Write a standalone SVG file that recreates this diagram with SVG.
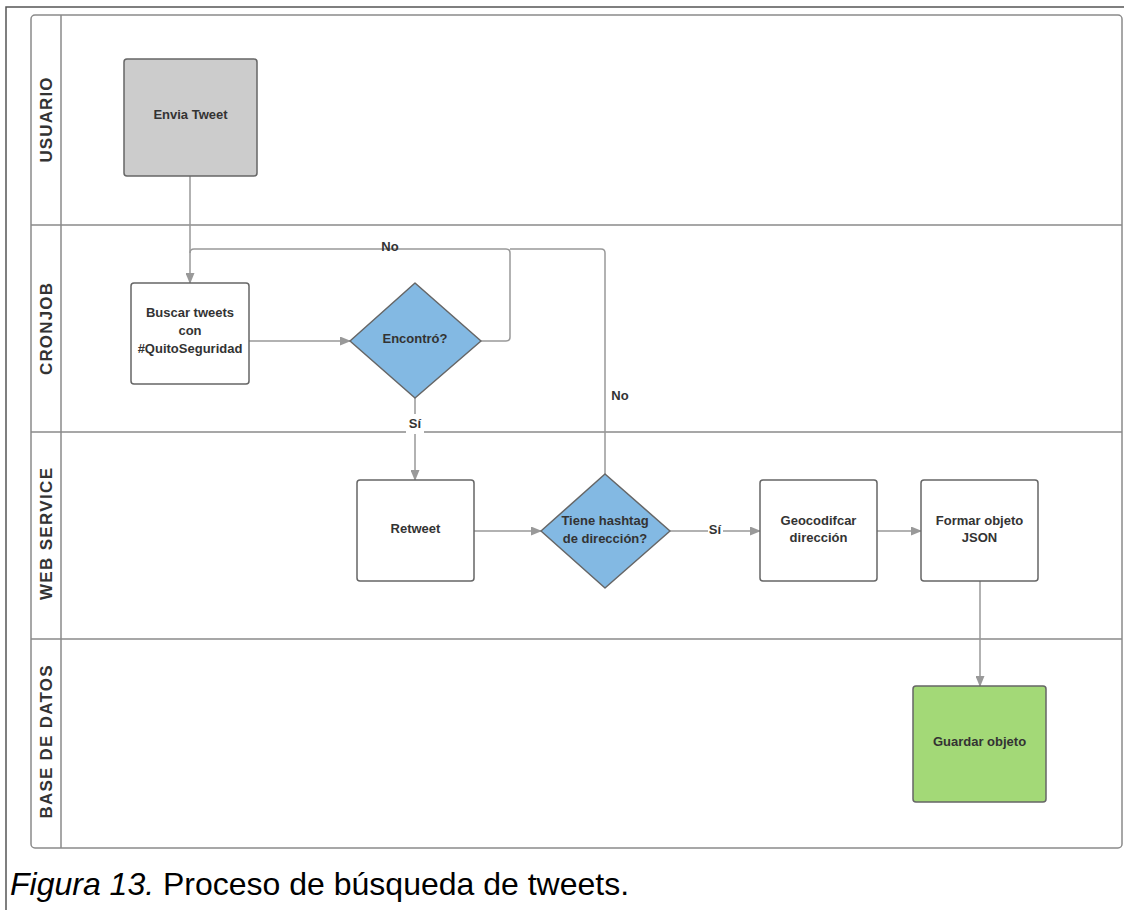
<svg xmlns="http://www.w3.org/2000/svg" width="1124" height="910" viewBox="0 0 1124 910">
  <style>
    .frame { fill: none; stroke: #555; stroke-width: 1.5; }
    .pool { fill: #fff; stroke: #8a8a8a; stroke-width: 1.5; }
    .lane { stroke: #8a8a8a; stroke-width: 1.5; fill: none; }
    .lanelabel { font-family: "Liberation Sans", Arial, sans-serif; font-weight: bold; font-size: 17px; fill: #333; text-anchor: middle; }
    .box { stroke: #666; stroke-width: 1.5; }
    .txt { font-family: "Liberation Sans", Arial, sans-serif; font-weight: bold; font-size: 13px; fill: #333; text-anchor: middle; }
    .edge { fill: none; stroke: #999; stroke-width: 1.5; }
    .lbl { font-family: "Liberation Sans", Arial, sans-serif; font-weight: bold; font-size: 13px; fill: #333; text-anchor: middle; }
    .caption { font-family: "Liberation Sans", Arial, sans-serif; font-size: 32px; fill: #000; }
  </style>
  <defs>
    <marker id="arrow" markerUnits="userSpaceOnUse" markerWidth="11" markerHeight="9" refX="10" refY="4.5" orient="auto">
      <path d="M0,0 L11,4.5 L0,9 z" fill="#999"/>
    </marker>
  </defs>

  <rect width="1124" height="910" fill="#fff"/>
  <!-- page frame -->
  <path class="frame" d="M6,910 V7 H1124"/>

  <!-- pool and lanes -->
  <g id="pool">
    <rect class="pool" x="31" y="15" width="1091" height="833" rx="4"/>
    <line class="lane" x1="61" y1="15" x2="61" y2="848"/>
    <line class="lane" x1="31" y1="225" x2="1122" y2="225"/>
    <line class="lane" x1="31" y1="432" x2="1122" y2="432"/>
    <line class="lane" x1="31" y1="639" x2="1122" y2="639"/>
    <text class="lanelabel" transform="translate(52,120) rotate(-90)" textLength="85" lengthAdjust="spacing">USUARIO</text>
    <text class="lanelabel" transform="translate(52,329) rotate(-90)" textLength="92" lengthAdjust="spacing">CRONJOB</text>
    <text class="lanelabel" transform="translate(52,534) rotate(-90)" textLength="132" lengthAdjust="spacing">WEB SERVICE</text>
    <text class="lanelabel" transform="translate(52,742) rotate(-90)" textLength="153" lengthAdjust="spacing">BASE DE DATOS</text>
  </g>

  <!-- connectors -->
  <g id="connectors">
    <path class="edge" d="M190,176 V283" marker-end="url(#arrow)"/>
    <path class="edge" d="M481,341 H506 Q510,341 510,337 V253 Q510,249 506,249 H194 Q190,249 190,253"/>
    <path class="edge" d="M605,474 V253 Q605,249 601,249 H510"/>
    <path class="edge" d="M249,341 H350" marker-end="url(#arrow)"/>
    <path class="edge" d="M415,398 V480" marker-end="url(#arrow)"/>
    <path class="edge" d="M474,531 H541" marker-end="url(#arrow)"/>
    <path class="edge" d="M670,531 H760" marker-end="url(#arrow)"/>
    <path class="edge" d="M877,531 H921" marker-end="url(#arrow)"/>
    <path class="edge" d="M980,581 V686" marker-end="url(#arrow)"/>
    <!-- edge labels -->
    <text class="lbl" x="390" y="251">No</text>
    <rect x="406" y="414" width="18" height="20" fill="#fff"/>
    <text class="lbl" x="415" y="428">Sí</text>
    <text class="lbl" x="620" y="400">No</text>
    <rect x="708" y="524" width="15" height="14" fill="#fff"/>
    <text class="lbl" x="715" y="534">Sí</text>
  </g>

  <g id="envia-tweet">
    <rect class="box" x="124" y="59" width="133" height="117" rx="3" fill="#cccccc"/>
    <text class="txt" x="190.5" y="119">Envia Tweet</text>
  </g>

  <g id="buscar-tweets">
    <rect class="box" x="131" y="283" width="118" height="101" rx="3" fill="#fff"/>
    <text class="txt" x="190" y="317">Buscar tweets</text>
    <text class="txt" x="190" y="335">con</text>
    <text class="txt" x="190" y="353">#QuitoSeguridad</text>
  </g>

  <g id="encontro">
    <path class="box" d="M415,283 L481,341 L415,398 L350,341 Z" fill="#83b9e3" stroke-linejoin="round"/>
    <text class="txt" x="415" y="343">Encontró?</text>
  </g>

  <g id="retweet">
    <rect class="box" x="357" y="480" width="117" height="101" rx="3" fill="#fff"/>
    <text class="txt" x="415.5" y="533">Retweet</text>
  </g>

  <g id="tiene-hashtag">
    <path class="box" d="M605,474 L670,531 L605,588 L541,531 Z" fill="#83b9e3" stroke-linejoin="round"/>
    <text class="txt" x="605" y="525">Tiene hashtag</text>
    <text class="txt" x="605" y="543">de dirección?</text>
  </g>

  <g id="geocodificar">
    <rect class="box" x="760" y="480" width="117" height="101" rx="3" fill="#fff"/>
    <text class="txt" x="818.5" y="525">Geocodifcar</text>
    <text class="txt" x="818.5" y="542">dirección</text>
  </g>

  <g id="formar-json">
    <rect class="box" x="921" y="480" width="117" height="101" rx="3" fill="#fff"/>
    <text class="txt" x="979.5" y="525">Formar objeto</text>
    <text class="txt" x="979.5" y="542">JSON</text>
  </g>

  <g id="guardar-objeto">
    <rect class="box" x="913" y="686" width="133" height="116" rx="3" fill="#a3d977"/>
    <text class="txt" x="979.5" y="746">Guardar objeto</text>
  </g>

  <!-- figure caption -->
  <text class="caption" x="10" y="895"><tspan font-style="italic">Figura 13.</tspan> Proceso de búsqueda de tweets.</text>
</svg>
